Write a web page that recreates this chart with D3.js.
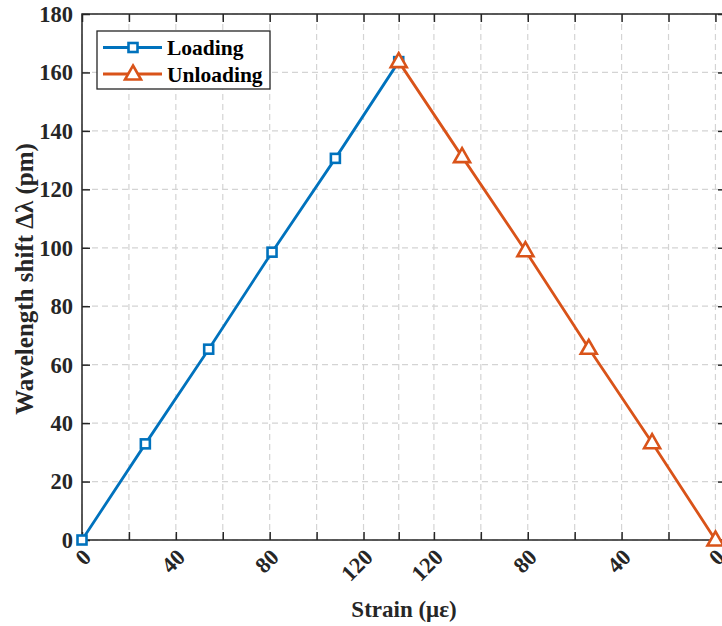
<!DOCTYPE html>
<html><head><meta charset="utf-8">
<script src="https://cdn.jsdelivr.net/npm/d3@7"></script>
<style>body{margin:0;background:#fff;} svg{display:block;}</style>
</head><body>
<svg id="chart" width="722" height="626"></svg>
<script>
// Data
const loadingStrain = [0, 27, 54, 81, 108, 135];
const loadingShift = [0, 32.9, 65.3, 98.5, 130.6, 163.7];
const unloadingStrain = [135, 108, 81, 54, 27, 0];
const unloadingShift = [163.7, 131.2, 99.0, 65.6, 33.3, 0];
const peakStrain = 135;
const xTickValues = [0, 20, 40, 60, 80, 100, 120, 135, 150, 170, 190, 210, 230, 250, 270];
const xTickLabels = ["0", "", "40", "", "80", "", "120", "", "120", "", "80", "", "40", "", "0"];
const yTickValues = [0, 20, 40, 60, 80, 100, 120, 140, 160, 180];
const seriesNames = ["Loading", "Unloading"];
const seriesColors = ["#0072BD", "#D95319"];

(function(){
const svg = d3.select("#chart");
const pLeft = 82, pRight = 726, pTop = 14, pBottom = 540;
const x = d3.scaleLinear().domain([0, 274.5]).range([pLeft, pRight]);
const y = d3.scaleLinear().domain([0, 180]).range([pBottom, pTop]);
// unloading plotted on the mirrored half of the axis
const pos = (s, unload) => unload ? 2 * peakStrain - s : s;

const font = "'Liberation Serif','Times New Roman',serif";
const gridColor = "#d4d4d4";
const axisColor = "#262626";

// grid
const g = svg.append("g");
g.selectAll("line.vg").data(xTickValues).enter().append("line")
  .attr("x1", d => x(d)).attr("x2", d => x(d)).attr("y1", pTop).attr("y2", pBottom)
  .attr("stroke", gridColor).attr("stroke-width", 1.2).attr("stroke-dasharray", "6,4");
g.selectAll("line.hg").data(yTickValues).enter().append("line")
  .attr("x1", pLeft).attr("x2", pRight).attr("y1", d => y(d)).attr("y2", d => y(d))
  .attr("stroke", gridColor).attr("stroke-width", 1.2).attr("stroke-dasharray", "6,4");

// axes with inward ticks
const tickLen = 8;
const bottomAxis = d3.axisTop(x).tickValues(xTickValues).tickSize(tickLen).tickFormat("");
const topAxis = d3.axisBottom(x).tickValues(xTickValues).tickSize(tickLen).tickFormat("");
const leftAxis = d3.axisRight(y).tickValues(yTickValues).tickSize(tickLen).tickFormat("");
const rightAxis = d3.axisLeft(y).tickValues(yTickValues).tickSize(tickLen).tickFormat("");
function styleAxis(sel){
  sel.selectAll("line").attr("stroke", axisColor).attr("stroke-width", 1.5);
  sel.select(".domain").remove();
}
svg.append("g").attr("transform", `translate(0,${pBottom})`).call(bottomAxis).call(styleAxis);
svg.append("g").attr("transform", `translate(0,${pTop})`).call(topAxis).call(styleAxis);
svg.append("g").attr("transform", `translate(${pLeft},0)`).call(leftAxis).call(styleAxis);
svg.append("g").attr("transform", `translate(${pRight},0)`).call(rightAxis).call(styleAxis);
svg.append("rect").attr("x", pLeft).attr("y", pTop).attr("width", pRight - pLeft).attr("height", pBottom - pTop)
  .attr("fill", "none").attr("stroke", axisColor).attr("stroke-width", 1.5);

// y tick labels
svg.append("g").selectAll("text").data(yTickValues).enter().append("text")
  .attr("x", pLeft - 9).attr("y", d => y(d)).attr("dy", "0.35em")
  .attr("text-anchor", "end").attr("font-family", font).attr("font-weight", "bold")
  .attr("font-size", 22.5).attr("fill", axisColor).text(d => d);

// x tick labels rotated
svg.append("g").selectAll("text").data(xTickValues).enter().append("text")
  .attr("transform", d => `translate(${x(d) + 5},${pBottom + 13}) rotate(-45)`)
  .attr("dy", "0.35em")
  .attr("text-anchor", "end").attr("font-family", font).attr("font-weight", "bold")
  .attr("font-size", 22.5).attr("fill", axisColor).text((d, i) => xTickLabels[i]);

// axis titles
svg.append("text").attr("x", 404).attr("y", 617).attr("text-anchor", "middle")
  .attr("font-family", font).attr("font-weight", "bold").attr("font-size", 23).attr("fill", axisColor)
  .text("Strain (με)");
svg.append("text").attr("transform", `translate(33,${(pTop + pBottom) / 2 + 2}) rotate(-90)`)
  .attr("text-anchor", "middle")
  .attr("font-family", font).attr("font-weight", "bold").attr("font-size", 25).attr("fill", axisColor)
  .text("Wavelength shift Δλ (pm)");

// series
const line = d3.line().x(d => x(d[0])).y(d => y(d[1]));
const loadPts = loadingStrain.map((s, i) => [pos(s, false), loadingShift[i]]);
const unloadPts = unloadingStrain.map((s, i) => [pos(s, true), unloadingShift[i]]);
const lw = 2.8;
svg.append("path").datum(loadPts).attr("d", line).attr("fill", "none")
  .attr("stroke", seriesColors[0]).attr("stroke-width", lw);
svg.append("path").datum(unloadPts).attr("d", line).attr("fill", "none")
  .attr("stroke", seriesColors[1]).attr("stroke-width", lw);

const sq = 9;
function square(sel, color){
  sel.append("rect").attr("x", -sq/2).attr("y", -sq/2).attr("width", sq).attr("height", sq)
    .attr("fill", "#fff").attr("stroke", color).attr("stroke-width", 2.6);
}
const triPath = "M0,-8.5 L8,5.5 L-8,5.5 Z";
function tri(sel, color){
  sel.append("path").attr("d", triPath).attr("fill", "#fff").attr("stroke", color).attr("stroke-width", 2.6);
}
svg.append("g").selectAll("g").data(loadPts).enter().append("g")
  .attr("transform", d => `translate(${x(d[0])},${y(d[1])})`).each(function(){ square(d3.select(this), seriesColors[0]); });
svg.append("g").selectAll("g").data(unloadPts).enter().append("g")
  .attr("transform", d => `translate(${x(d[0])},${y(d[1])})`).each(function(){ tri(d3.select(this), seriesColors[1]); });

// legend
const lg = svg.append("g");
lg.append("rect").attr("x", 97).attr("y", 31).attr("width", 173).attr("height", 58)
  .attr("fill", "#fff").attr("stroke", axisColor).attr("stroke-width", 1.3);
seriesNames.forEach((name, i) => {
  const yy = 47.5 + i * 26.5;
  lg.append("line").attr("x1", 103).attr("x2", 162).attr("y1", yy).attr("y2", yy)
    .attr("stroke", seriesColors[i]).attr("stroke-width", lw);
  const m = lg.append("g").attr("transform", `translate(133,${yy})`);
  if (i === 0) square(m, seriesColors[0]); else tri(m, seriesColors[1]);
  lg.append("text").attr("x", 167).attr("y", yy).attr("dy", "0.35em")
    .attr("font-family", font).attr("font-weight", "bold").attr("font-size", 21.5).attr("fill", "#000")
    .text(name);
});
})();
</script>
</body></html>
